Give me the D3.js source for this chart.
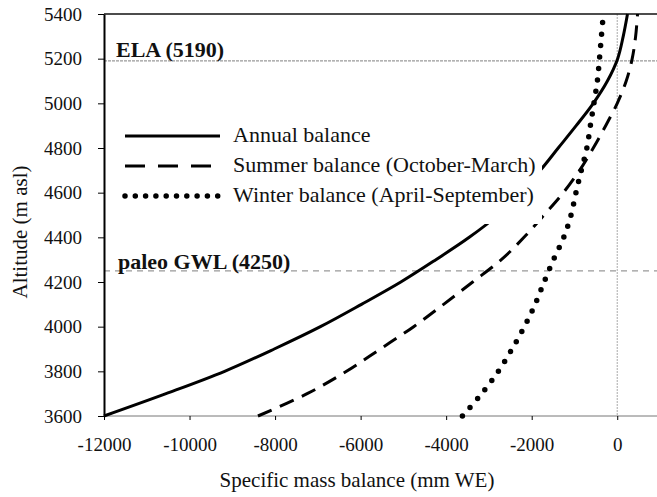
<!DOCTYPE html>
<html>
<head>
<meta charset="utf-8">
<script src="https://cdn.jsdelivr.net/npm/d3@7"></script>
<style>
  body { margin: 0; background: #fff; }
  svg text { font-family: "Liberation Serif", "Times New Roman", serif; fill: #111; }
</style>
</head>
<body>
<div id="chart"></div>
<script>
// altitudes (m asl) shared by the three series
var altitudes = [3600, 3700, 3800, 3900, 4000, 4100, 4200, 4300, 4400, 4500,
                 4600, 4700, 4800, 4900, 5000, 5100, 5200, 5300, 5400];
// specific mass balance (mm WE)
var annualBalance = [-12000, -10550, -9180, -8020, -6940, -5980, -5060, -4240, -3460, -2790,
                     -2290, -1800, -1380, -960, -560, -230, 10, 140, 240];
var summerBalance = [-8400, -7250, -6330, -5540, -4760, -4060, -3380, -2710, -2180, -1710,
                     -1260, -880, -560, -270, 0, 210, 350, 430, 475];
var winterBalance = [-3620, -3170, -2780, -2460, -2170, -1920, -1710, -1490, -1250, -1080,
                     -965, -840, -710, -628, -545, -465, -415, -370, -325];

var xTicks = [-12000, -10000, -8000, -6000, -4000, -2000, 0];
var yTicks = [3600, 3800, 4000, 4200, 4400, 4600, 4800, 5000, 5200, 5400];
var seriesNames = ["Annual balance", "Summer balance (October-March)", "Winter balance (April-September)"];
var ela = 5190, paleoGwl = 4250;

var margin = { top: 14, right: 0, bottom: 81, left: 104 },
    width = 657 - margin.left - margin.right,
    height = 497 - margin.top - margin.bottom;

var svg = d3.select("#chart").append("svg")
    .attr("width", 657)
    .attr("height", 497)
    .append("g")
    .attr("transform", "translate(" + margin.left + "," + margin.top + ")");

var xScale = d3.scaleLinear().domain([-12000, 1000]).range([0, 556]);
var yScale = d3.scaleLinear().domain([3600, 5400]).range([height, 0]);

// reference lines
svg.append("line")
    .attr("x1", xScale(0)).attr("x2", xScale(0))
    .attr("y1", 0).attr("y2", height)
    .style("stroke", "#aaa").style("stroke-width", 1)
    .style("stroke-dasharray", "2,1");

svg.append("line")
    .attr("x1", 0).attr("x2", width)
    .attr("y1", yScale(ela)).attr("y2", yScale(ela))
    .style("stroke", "#999").style("stroke-width", 1.2)
    .style("stroke-dasharray", "3,1");

svg.append("line")
    .attr("x1", 0).attr("x2", width)
    .attr("y1", yScale(paleoGwl)).attr("y2", yScale(paleoGwl))
    .style("stroke", "#999").style("stroke-width", 1.2)
    .style("stroke-dasharray", "6,5");

// top border
svg.append("line")
    .attr("x1", 0).attr("x2", width)
    .attr("y1", 0).attr("y2", 0)
    .style("stroke", "#111").style("stroke-width", 1.5);

// plain hyphen for negatives, like the original
var fmt = function (d) { return d < 0 ? "-" + Math.abs(d) : String(d); };

// axes
var xAxis = svg.append("g")
    .attr("class", "x axis")
    .attr("transform", "translate(0," + height + ")")
    .call(d3.axisBottom(xScale).tickValues(xTicks).tickSize(4).tickSizeOuter(0).tickPadding(18)
        .tickFormat(fmt));
xAxis.select(".domain").style("stroke", "#777").attr("d", "M0,0H" + width);
xAxis.selectAll("text").style("font-size", "19px").style("font-family", "Liberation Serif, serif");

var yAxis = svg.append("g")
    .attr("class", "y axis")
    .call(d3.axisLeft(yScale).tickValues(yTicks).tickSize(6).tickSizeOuter(0).tickPadding(16)
        .tickFormat(fmt));
yAxis.select(".domain").style("stroke-width", 2);
yAxis.selectAll("text").style("font-size", "19px").style("font-family", "Liberation Serif, serif");

var data = altitudes.map(function (a, i) {
    return { alt: a, annual: annualBalance[i], summer: summerBalance[i], winter: winterBalance[i] };
});

function lineFor(key) {
    return d3.line()
        .x(function (d) { return xScale(d[key]); })
        .y(function (d) { return yScale(d.alt); })
        .curve(d3.curveCatmullRom);
}

svg.append("path")
    .datum(data)
    .attr("d", lineFor("annual"))
    .style("fill", "none").style("stroke", "#000").style("stroke-width", 3);

svg.append("path")
    .datum(data)
    .attr("d", lineFor("summer"))
    .style("fill", "none").style("stroke", "#000").style("stroke-width", 3)
    .style("stroke-dasharray", "15,9");

svg.append("path")
    .datum(data)
    .attr("d", lineFor("winter"))
    .style("fill", "none").style("stroke", "#000").style("stroke-width", 5.5)
    .style("stroke-linecap", "round")
    .style("stroke-dasharray", "0,11.5");

// labels for reference lines
svg.append("text")
    .attr("x", 12).attr("y", yScale(ela) - 4)
    .style("font-size", "22px").style("font-weight", "bold")
    .text("ELA (5190)");

svg.append("text")
    .attr("x", 14).attr("y", yScale(paleoGwl) - 2)
    .style("font-size", "22px").style("font-weight", "bold")
    .text("paleo GWL (4250)");

// legend
var legend = svg.append("g").attr("transform", "translate(8,104)");
legend.append("rect")
    .attr("x", 0).attr("y", 0).attr("width", 430).attr("height", 106)
    .style("fill", "#fff");

var legendRows = [
    { y: 18, dash: null, w: 3, cap: "butt" },
    { y: 48, dash: "20,13", w: 3, cap: "butt" },
    { y: 78, dash: "0,10.3", w: 5.5, cap: "round" }
];
legendRows.forEach(function (r, i) {
    legend.append("line")
        .attr("x1", 13).attr("x2", 108)
        .attr("y1", r.y).attr("y2", r.y)
        .style("stroke", "#000").style("stroke-width", r.w)
        .style("stroke-linecap", r.cap)
        .style("stroke-dasharray", r.dash);
    legend.append("text")
        .attr("x", 121).attr("y", r.y + 6)
        .style("font-size", "22px")
        .text(seriesNames[i]);
});

// axis titles
svg.append("text")
    .attr("x", 253).attr("y", height + 71)
    .attr("text-anchor", "middle")
    .style("font-size", "21px")
    .text("Specific mass balance (mm WE)");

svg.append("text")
    .attr("transform", "translate(" + (-77) + "," + 218 + ") rotate(-90)")
    .attr("text-anchor", "middle")
    .style("font-size", "21px")
    .text("Altitude (m asl)");
</script>
</body>
</html>
